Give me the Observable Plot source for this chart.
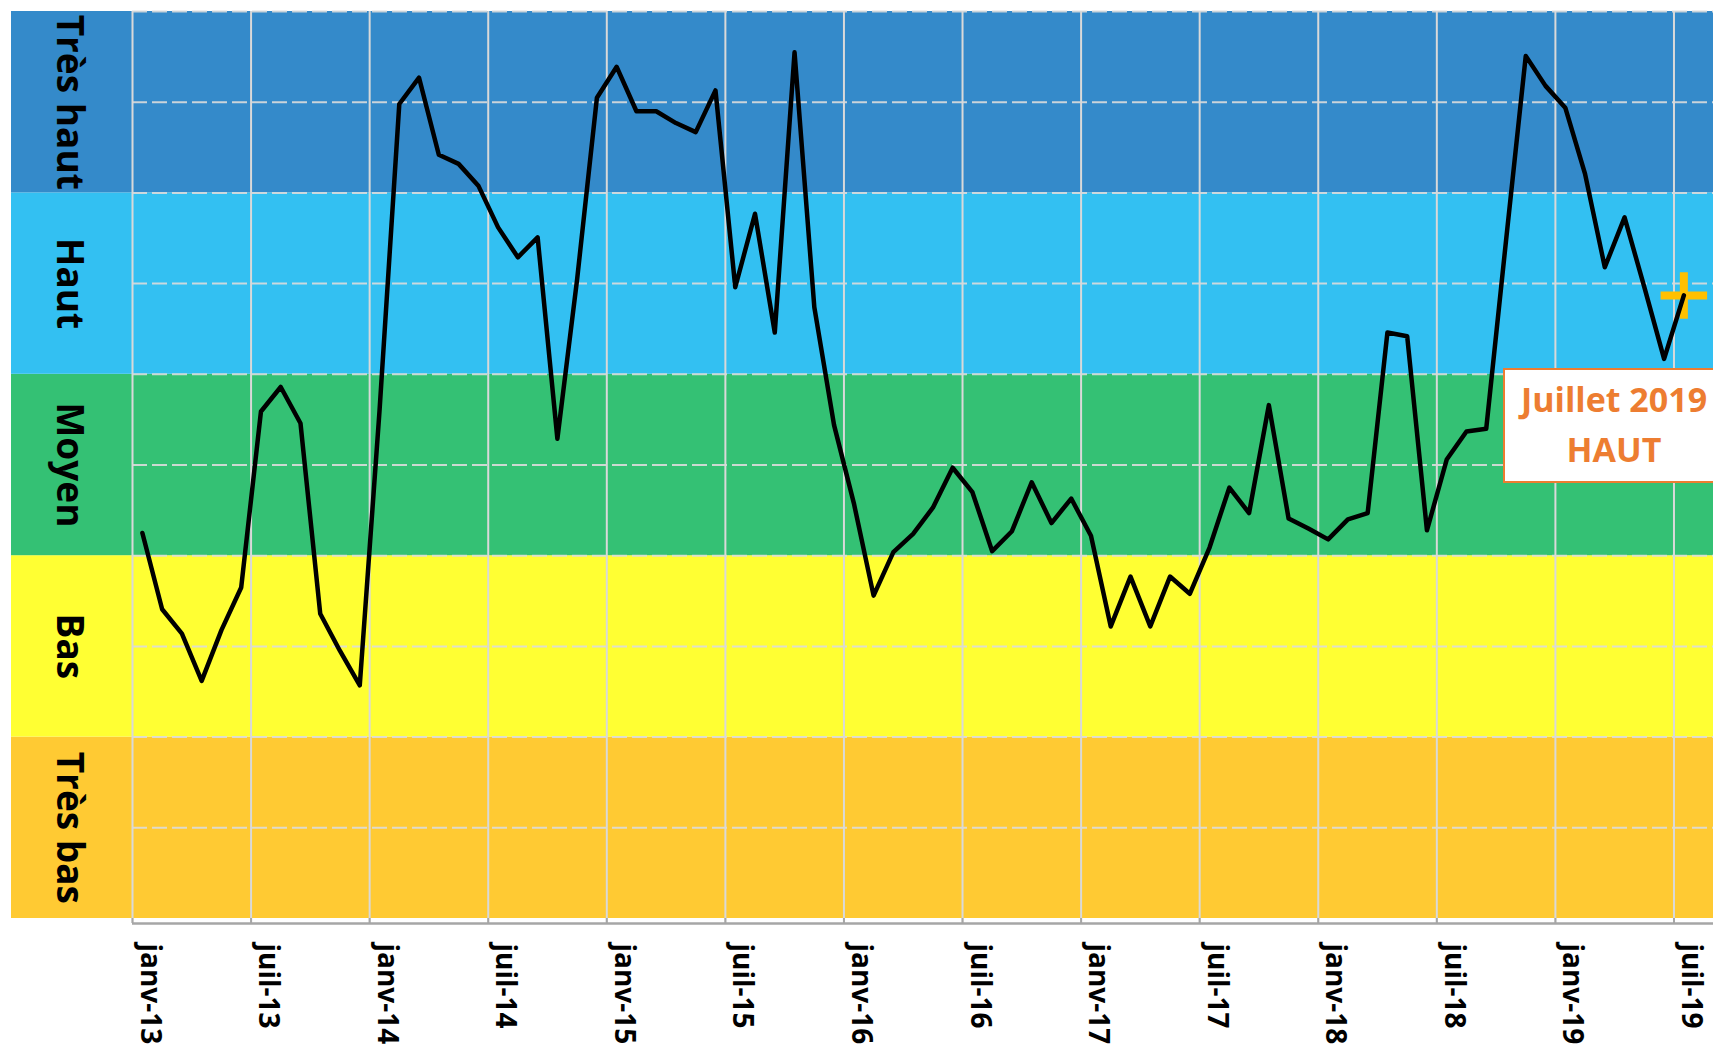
<!DOCTYPE html>
<html>
<head>
<meta charset="utf-8">
<script src="https://cdn.jsdelivr.net/npm/d3@7"></script>
<script src="https://cdn.jsdelivr.net/npm/@observablehq/plot@0.6"></script>
<style>
  html, body { margin: 0; padding: 0; background: #fff; overflow: hidden; }
  #wrap { position: relative; width: 1713px; height: 1051px; overflow: hidden; }
  #callout {
    position: absolute; left: 1503px; top: 368px; width: 222px; height: 115px;
    box-sizing: border-box; border: 2px solid #ED7D31; background: #fff;
    font-family: "Open Sans", sans-serif; font-weight: 700; font-size: 34px;
    line-height: 50px; color: #ED7D31; text-align: center; padding-top: 4px;
  }
</style>
</head>
<body>
<div id="wrap"></div>
<script>
// Level bands (y in index units)
const levelLabels = ["Très bas", "Bas", "Moyen", "Haut", "Très haut"];
const levelLow    = [0, 2, 4, 6, 8];
const levelHigh   = [2, 4, 6, 8, 10];
const levelColors = ["#FFCA33", "#FFFF33", "#34C174", "#33C0F2", "#348ACA"];

// Monthly values, janv-2013 .. juil-2019
const values2013 = [4.25, 3.41, 3.14, 2.62, 3.18, 3.65, 5.59, 5.86, 5.46, 3.36, 2.95, 2.57];
const values2014 = [5.60, 8.98, 9.27, 8.42, 8.32, 8.08, 7.62, 7.29, 7.51, 5.29, 7.05, 9.05];
const values2015 = [9.39, 8.90, 8.90, 8.77, 8.67, 9.13, 6.96, 7.77, 6.46, 9.55, 6.74, 5.44];
const values2016 = [4.58, 3.56, 4.04, 4.24, 4.53, 4.97, 4.70, 4.05, 4.27, 4.81, 4.36, 4.63];
const values2017 = [4.22, 3.22, 3.77, 3.22, 3.77, 3.58, 4.09, 4.75, 4.47, 5.66, 4.41, 4.30];
const values2018 = [4.18, 4.40, 4.47, 6.46, 6.42, 4.28, 5.06, 5.37, 5.40, 7.47, 9.51, 9.18];
const values2019 = [8.94, 8.21, 7.18, 7.73, 6.96, 6.17, 6.87];

// X axis ticks (month index from janv-13)
const tickMonths = [0, 6, 12, 18, 24, 30, 36, 42, 48, 54, 60, 66, 72, 78];
const tickLabels = ["janv-13", "juil-13", "janv-14", "juil-14", "janv-15", "juil-15", "janv-16",
                    "juil-16", "janv-17", "juil-17", "janv-18", "juil-18", "janv-19", "juil-19"];

const calloutLines = ["Juillet 2019", "HAUT"];

const values = [...values2013, ...values2014, ...values2015, ...values2016, ...values2017, ...values2018, ...values2019];
const series = values.map((v, i) => ({m: i + 0.5, v}));
const bands = levelLabels.map((label, i) => ({label, lo: levelLow[i], hi: levelHigh[i], fill: levelColors[i]}));
const ticks = tickMonths.map((m, i) => ({m, label: tickLabels[i]}));
const last = series[series.length - 1];

const chart = Plot.plot({
  width: 1713,
  height: 1051,
  marginLeft: 132,
  marginRight: 0,
  marginTop: 11,
  marginBottom: 133,
  x: {domain: [0, 80], axis: null},
  y: {domain: [0, 10], axis: null},
  style: {background: "transparent", overflow: "visible"},
  marks: [
    Plot.rect(bands, {y1: "lo", y2: "hi", fill: "fill", insetLeft: -121}),
    Plot.ruleY(d3.range(1, 11), {stroke: "#dcdcdc", strokeOpacity: 0.9, strokeWidth: 2, strokeDasharray: "15,5"}),
    Plot.ruleX(ticks, {x: "m", stroke: "#d9d9d9", strokeWidth: 2, insetBottom: -5}),
    Plot.ruleX(ticks, {x: "m", stroke: "#a6a6a6", strokeWidth: 2, insetTop: 907, insetBottom: -5}),
    Plot.ruleY([0], {stroke: "#a6a6a6", strokeWidth: 2.5, dy: 5}),
    Plot.dot([last], {x: "m", y: "v", symbol: "plus", r: 15, stroke: "#FFC000", strokeWidth: 8}),
    Plot.line(series, {x: "m", y: "v", stroke: "#000", strokeWidth: 4.5, strokeLinejoin: "round"}),
    Plot.text(bands, {
      y: d => (d.lo + d.hi) / 2, text: "label", frameAnchor: "left", textAnchor: "middle",
      dx: -64, rotate: 90,
      fontFamily: "Open Sans", fontWeight: 700, fontSize: 37, fill: "#000"
    }),
    Plot.text(ticks, {
      x: "m", text: "label", frameAnchor: "bottom", dy: 25, dx: 8, rotate: 90, textAnchor: "start",
      fontFamily: "Open Sans", fontWeight: 700, fontSize: 28, fill: "#000"
    })
  ]
});

const wrap = document.getElementById("wrap");
wrap.appendChild(chart);
const callout = document.createElement("div");
callout.id = "callout";
callout.innerHTML = calloutLines.map(t => `<div>${t}</div>`).join("");
wrap.appendChild(callout);
</script>
</body>
</html>
